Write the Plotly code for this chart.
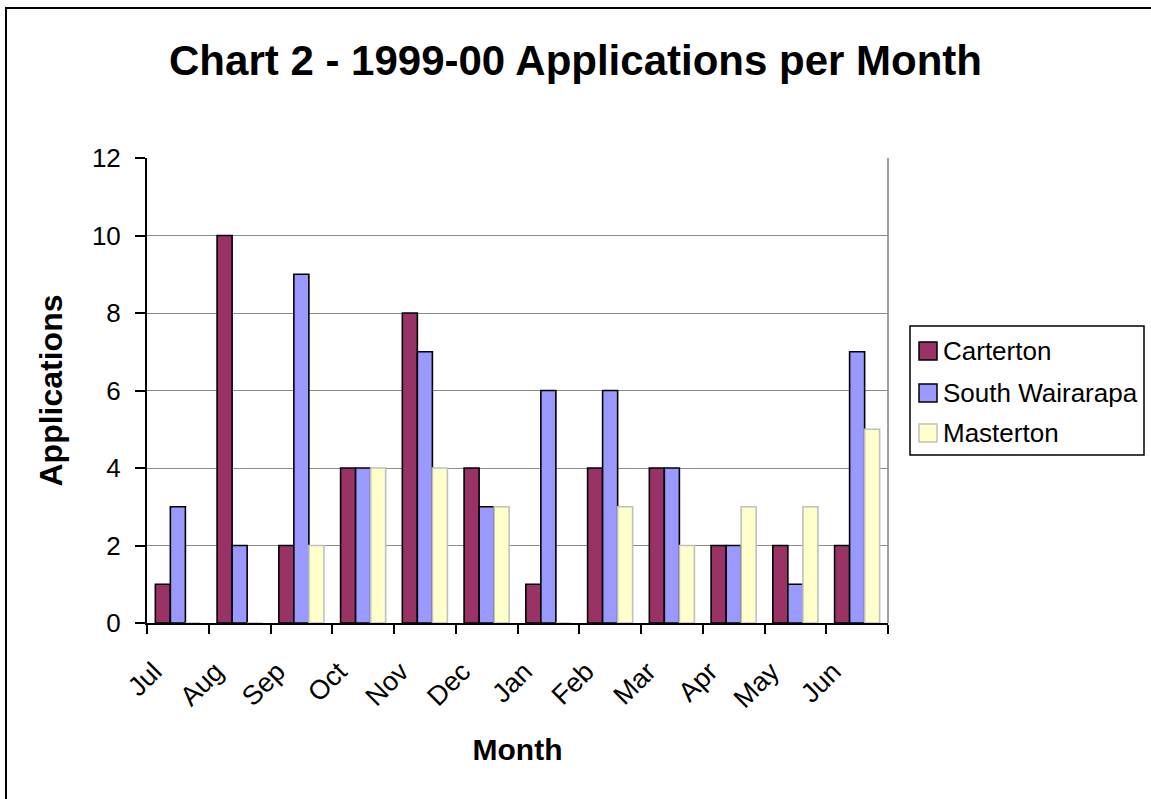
import plotly.graph_objects as go

months = ["Jul", "Aug", "Sep", "Oct", "Nov", "Dec", "Jan", "Feb", "Mar", "Apr", "May", "Jun"]
series_names = ["Carterton", "South Wairarapa", "Masterton"]
carterton = [1, 10, 2, 4, 8, 4, 1, 4, 4, 2, 2, 2]
south_wairarapa = [3, 2, 9, 4, 7, 3, 6, 6, 4, 2, 1, 7]
masterton = [0, 0, 2, 4, 4, 3, 0, 3, 2, 3, 3, 5]
y_ticks = [0, 2, 4, 6, 8, 10, 12]

fills = ["#993366", "#9999FF", "#FFFFCC"]
edges = ["#000000", "#000000", "#C0C0C0"]

W, H = 1151, 799
L, R, T, B = 147, 888, 158, 623
FONT = "Arial, Liberation Sans, sans-serif"


def px(x):
    return (x - L) / (R - L)


def py(y):
    return (B - y) / (B - T)


fig = go.Figure()
for name, vals, fc, ec in zip(series_names, [carterton, south_wairarapa, masterton], fills, edges):
    fig.add_trace(go.Bar(x=months, y=vals, name=name,
                         marker=dict(color=fc, line=dict(color=ec, width=1.6)),
                         showlegend=False))

shapes = []
# outer chart frame
shapes.append(dict(type="rect", xref="paper", yref="paper",
                   x0=px(6), x1=px(1160), y0=py(810), y1=py(8),
                   line=dict(color="black", width=2), fillcolor="rgba(0,0,0,0)", layer="above"))
# plot area right border
shapes.append(dict(type="line", xref="paper", yref="paper", x0=1, x1=1, y0=0, y1=1,
                   line=dict(color="#808080", width=1.5), layer="below"))
# legend box
shapes.append(dict(type="rect", xref="paper", yref="paper",
                   x0=px(910), x1=px(1144), y0=py(455), y1=py(326),
                   line=dict(color="black", width=1.5), fillcolor="white", layer="above"))
annotations = []
legend_y = [351, 393, 433]
for name, fc, ec, yc in zip(series_names, fills, edges, legend_y):
    shapes.append(dict(type="rect", xref="paper", yref="paper",
                       x0=px(919), x1=px(937), y0=py(yc + 9), y1=py(yc - 9),
                       line=dict(color=ec, width=1.5), fillcolor=fc, layer="above"))
    annotations.append(dict(xref="paper", yref="paper", x=px(941), y=py(yc),
                            xanchor="left", yanchor="middle", showarrow=False,
                            text=name, font=dict(family=FONT, size=26, color="black")))

fig.update_layout(
    width=W, height=H,
    margin=dict(l=L, r=W - R, t=T, b=H - B, pad=0),
    paper_bgcolor="white", plot_bgcolor="white",
    barmode="group", bargap=0.27, bargroupgap=0,
    font=dict(family=FONT, color="black"),
    title=dict(text="<b>Chart 2 - 1999-00 Applications per Month</b>",
               x=0.5, xanchor="center", xref="container", y=1 - 60 / H, yanchor="middle",
               font=dict(family=FONT, size=42, color="black")),
    xaxis=dict(type="category", tickson="boundaries", ticks="outside", ticklen=9,
               tickwidth=1.5, tickcolor="black", showline=True, linecolor="black",
               linewidth=2, tickangle=-45, tickfont=dict(size=27, family=FONT),
               ticklabelshift=-24, ticklabelstandoff=20,
               showgrid=False,
               title=dict(text="<b>Month</b>", font=dict(size=30, family=FONT), standoff=26)),
    yaxis=dict(range=[0, 12], tickvals=y_ticks, ticks="outside", ticklen=10, tickwidth=1.5,
               tickcolor="black", showline=True, linecolor="black", linewidth=2,
               showgrid=True, gridcolor="#8C8C8C", gridwidth=1.2, zeroline=False,
               tickfont=dict(size=26, family=FONT), ticklabelstandoff=9,
               title=dict(text="<b>Applications</b>", font=dict(size=32, family=FONT), standoff=20)),
    shapes=shapes, annotations=annotations,
)

fig.write_html("out.html", config={"displayModeBar": False},
               post_script="document.body.style.margin='0';document.body.style.overflow='hidden';")
